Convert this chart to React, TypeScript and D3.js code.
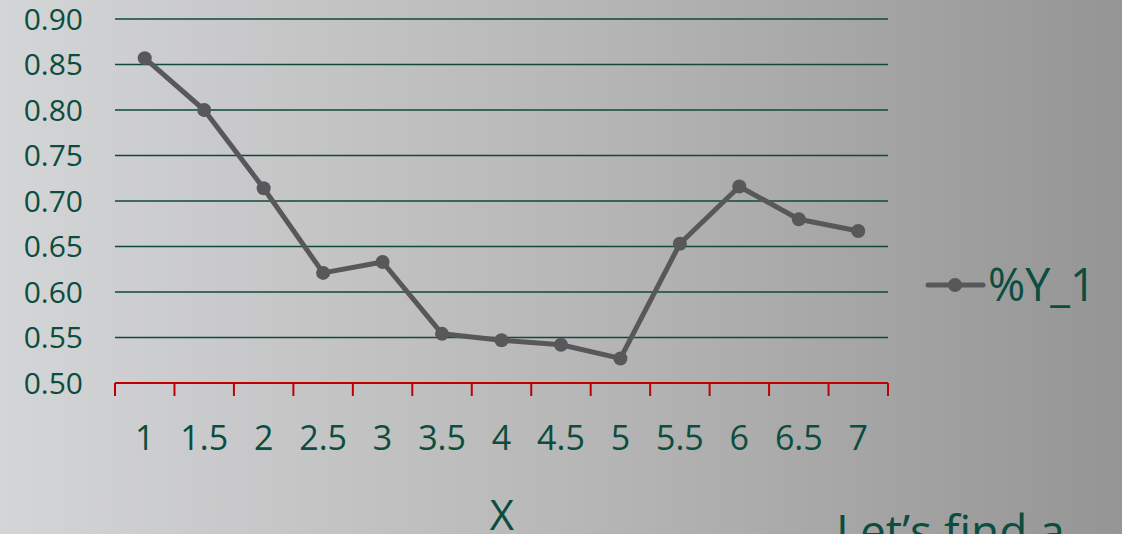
import React from "react";
import * as d3 from "d3";

const categories = ["1", "1.5", "2", "2.5", "3", "3.5", "4", "4.5", "5", "5.5", "6", "6.5", "7"];
const seriesY1 = [0.857, 0.8, 0.714, 0.621, 0.633, 0.554, 0.547, 0.542, 0.527, 0.653, 0.716, 0.68, 0.667];
const yTicks = [0.5, 0.55, 0.6, 0.65, 0.7, 0.75, 0.8, 0.85, 0.9];
const seriesName = "%Y_1";
const xTitle = "X";
const footerText = "Let\u2019s find a";

const W = 1122;
const H = 534;
const plot = { left: 115, right: 888, top: 19, bottom: 383 };
const textColor = "#0b4d3e";
const gridColor = "#0f4a3a";
const axisColor = "#c00000";
const lineColor = "#58585b";
const font = "'Open Sans', 'Noto Sans', sans-serif";

export default function App() {
  const x = d3.scaleBand<string>().domain(categories).range([plot.left, plot.right]);
  const y = d3.scaleLinear().domain([0.5, 0.9]).range([plot.bottom, plot.top]);
  const cx = (c: string) => (x(c) ?? 0) + x.bandwidth() / 2;
  const line = d3
    .line<number>()
    .x((_, i) => cx(categories[i]))
    .y((d) => y(d));
  const tickXs = [...categories.map((c) => x(c) ?? 0), plot.right];

  return (
    <svg
      width={W}
      height={H}
      style={{ position: "absolute", left: 0, top: 0, display: "block" }}
    >
      <defs>
        <linearGradient id="bg" x1="0" y1="0" x2="1" y2="0">
          <stop offset="0" stopColor="#d4d5d7" />
          <stop offset="0.5" stopColor="#b8b8b8" />
          <stop offset="1" stopColor="#959595" />
        </linearGradient>
      </defs>
      <rect x={0} y={0} width={W} height={H} fill="url(#bg)" />

      {yTicks.slice(1).map((t) => (
        <line key={t} x1={plot.left} x2={plot.right} y1={y(t)} y2={y(t)} stroke={gridColor} strokeWidth={1.5} />
      ))}
      {yTicks.map((t) => (
        <text
          key={"l" + t}
          x={83}
          y={y(t)}
          dy="0.36em"
          textAnchor="end"
          fill={textColor}
          fontFamily={font}
          fontSize={30}
        >
          {d3.format(".2f")(t)}
        </text>
      ))}

      <line x1={plot.left} x2={plot.right} y1={plot.bottom} y2={plot.bottom} stroke={axisColor} strokeWidth={2} />
      {tickXs.map((tx, i) => (
        <line key={"t" + i} x1={tx} x2={tx} y1={plot.bottom} y2={plot.bottom + 13} stroke={axisColor} strokeWidth={2} />
      ))}
      {categories.map((c) => (
        <text
          key={"x" + c}
          x={cx(c)}
          y={450}
          textAnchor="middle"
          fill={textColor}
          fontFamily={font}
          fontSize={34}
        >
          {c}
        </text>
      ))}

      <path d={line(seriesY1) ?? ""} fill="none" stroke={lineColor} strokeWidth={5} strokeLinejoin="round" />
      {seriesY1.map((v, i) => (
        <circle key={"p" + i} cx={cx(categories[i])} cy={y(v)} r={7} fill={lineColor} />
      ))}

      <line x1={928} x2={983} y1={285} y2={285} stroke={lineColor} strokeWidth={5} strokeLinecap="round" />
      <circle cx={955} cy={285} r={7} fill={lineColor} />
      <text x={988} y={301} fill={textColor} fontFamily={font} fontSize={45}>
        {seriesName}
      </text>

      <text x={502} y={530} textAnchor="middle" fill={textColor} fontFamily={font} fontSize={42}>
        {xTitle}
      </text>
      <text x={836} y={548} fill={textColor} fontFamily={font} fontSize={46}>
        {footerText}
      </text>
    </svg>
  );
}
